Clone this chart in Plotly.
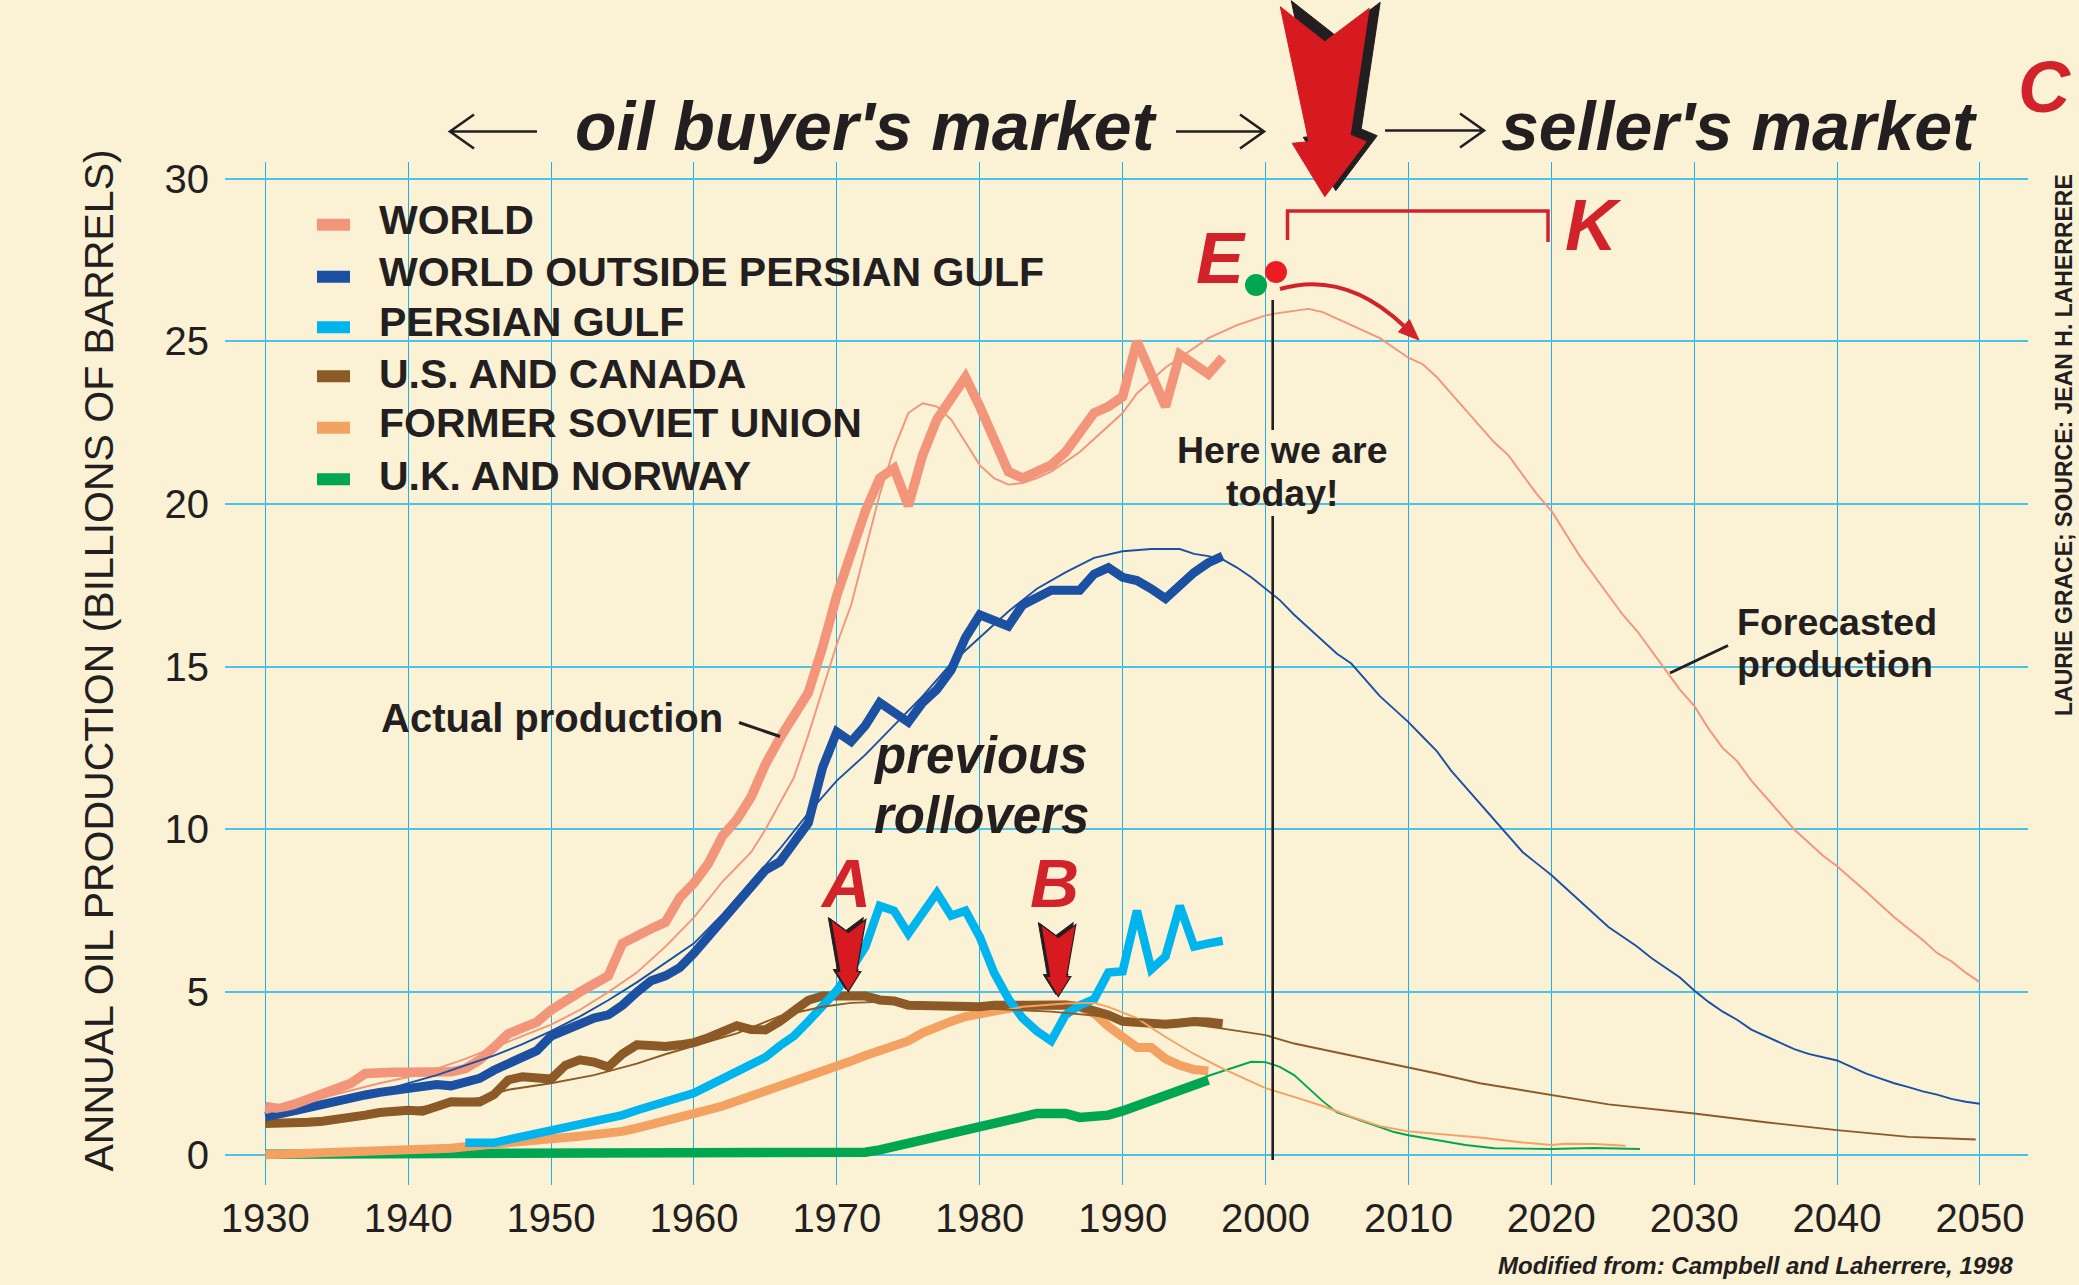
import plotly.graph_objects as go

# ---------------- data (annual oil production, billions of barrels) ----------------
x_ticks = [1930, 1940, 1950, 1960, 1970, 1980, 1990, 2000, 2010, 2020, 2030, 2040, 2050]
y_ticks = [0, 5, 10, 15, 20, 25, 30]

world_years = list(range(1930, 1998))
world_actual = [1.49, 1.42, 1.55, 1.7, 1.85, 1.98, 2.2, 2.5, 2.54, 2.54,
                2.54, 2.54, 2.54, 2.55, 2.65, 2.92, 3.3, 3.72, 3.9, 4.08,
                4.45, 4.75, 5.0, 5.25, 5.5, 6.5, 6.75, 6.95, 7.15, 7.9,
                8.35, 8.95, 9.8, 10.3, 11.0, 12.0, 12.8, 13.5, 14.2, 15.6,
                17.2, 18.5, 19.8, 20.8, 21.1, 19.95, 21.5, 22.6, 23.3, 23.9,
                23.0, 22.0, 21.0, 20.8, 21.0, 21.2, 21.6, 22.2, 22.8, 23.0,
                23.3, 25.0, 24.0, 23.0, 24.6, 24.3, 24.0, 24.5]

world_fit_years = [1930, 1932, 1935, 1938, 1940, 1942, 1944, 1946, 1948, 1950, 1952, 1954, 1956, 1958,
                   1960, 1962, 1964, 1965, 1966, 1967, 1968, 1969, 1970, 1971, 1972, 1973, 1974, 1975,
                   1976, 1977, 1978, 1979, 1980, 1981, 1982, 1983, 1984, 1985, 1986, 1987, 1988, 1989,
                   1990, 1991, 1992, 1993, 1994, 1995, 1996, 1997, 1998, 1999, 2000, 2001, 2002, 2003,
                   2004, 2005, 2006, 2007, 2008, 2009, 2010, 2011, 2012, 2013, 2014, 2015, 2016, 2017,
                   2018, 2019, 2020, 2021, 2022, 2023, 2024, 2025, 2026, 2027, 2028, 2029, 2030, 2031,
                   2032, 2033, 2034, 2035, 2036, 2037, 2038, 2039, 2040, 2041, 2042, 2043, 2044, 2045,
                   2046, 2047, 2048, 2049, 2050]
world_fit = [1.28, 1.5, 1.87, 2.2, 2.39, 2.65, 2.95, 3.3, 3.65, 4.0, 4.45, 5.0, 5.6, 6.4,
             7.3, 8.4, 9.3, 10.0, 10.8, 11.6, 12.9, 14.3, 15.7, 16.9, 18.6, 20.3, 21.7, 22.8,
             23.1, 23.0, 22.6, 21.9, 21.2, 20.8, 20.6, 20.65, 20.8, 21.0, 21.3, 21.6, 22.0, 22.4,
             22.8, 23.4, 23.8, 24.2, 24.5, 24.8, 25.1, 25.3, 25.5, 25.65, 25.8, 25.88, 25.95, 26.0,
             25.9, 25.7, 25.5, 25.3, 25.1, 24.8, 24.5, 24.3, 23.9, 23.4, 22.9, 22.4, 21.9, 21.5,
             20.9, 20.3, 19.8, 19.1, 18.4, 17.8, 17.2, 16.6, 16.1, 15.5, 14.9, 14.3, 13.8, 13.1,
             12.5, 12.1, 11.5, 11.0, 10.5, 10.0, 9.6, 9.2, 8.87, 8.5, 8.1, 7.7, 7.3, 6.95,
             6.6, 6.2, 5.95, 5.6, 5.3]

wopg_years = list(range(1930, 1998))
wopg_actual = [1.17, 1.23, 1.35, 1.45, 1.53, 1.63, 1.73, 1.84, 1.92, 1.98,
               1.98, 2.07, 2.16, 2.12, 2.2, 2.35, 2.6, 2.8, 3.0, 3.2,
               3.65, 3.85, 4.05, 4.2, 4.3, 4.6, 5.0, 5.35, 5.5, 5.75,
               6.2, 6.7, 7.2, 7.75, 8.15, 8.75, 9.0, 9.6, 10.2, 11.9,
               13.0, 12.7, 13.2, 13.9, 13.6, 13.3, 13.9, 14.3, 14.9, 15.9,
               16.6, 16.45, 16.25, 16.9, 17.15, 17.35, 17.35, 17.35, 17.85, 18.05,
               17.75, 17.65, 17.4, 17.1, 17.5, 17.9, 18.2, 18.4]

wopg_fit_years = [1930, 1932, 1934, 1936, 1938, 1940, 1942, 1944, 1946, 1948, 1950, 1952, 1954, 1956,
                  1958, 1960, 1962, 1964, 1966, 1968, 1970, 1972, 1974, 1976, 1978, 1980, 1982, 1984,
                  1986, 1988, 1990, 1992, 1994, 1995, 1996, 1997, 1998, 1999, 2000, 2001, 2002, 2003,
                  2004, 2005, 2006, 2007, 2008, 2009, 2010, 2011, 2012, 2013, 2014, 2015, 2016, 2017,
                  2018, 2019, 2020, 2021, 2022, 2023, 2024, 2025, 2026, 2027, 2028, 2029, 2030, 2031,
                  2032, 2033, 2034, 2035, 2036, 2037, 2038, 2039, 2040, 2041, 2042, 2043, 2044, 2045,
                  2046, 2047, 2048, 2049, 2050]
wopg_fit = [1.2, 1.35, 1.5, 1.7, 1.95, 2.2, 2.45, 2.75, 3.05, 3.4, 3.8, 4.25, 4.75, 5.3,
            5.9, 6.5, 7.4, 8.4, 9.4, 10.5, 11.5, 12.3, 13.2, 14.1, 15.1, 15.9, 16.7, 17.4,
            17.9, 18.35, 18.55, 18.62, 18.62, 18.47, 18.4, 18.3, 18.05, 17.75, 17.4, 17.05, 16.6, 16.2,
            15.8, 15.4, 15.1, 14.6, 14.1, 13.7, 13.3, 12.85, 12.4, 11.8, 11.3, 10.8, 10.3, 9.8,
            9.3, 8.95, 8.6, 8.2, 7.8, 7.4, 7.0, 6.7, 6.4, 6.05, 5.75, 5.45, 5.05, 4.7,
            4.4, 4.15, 3.85, 3.65, 3.45, 3.25, 3.1, 3.0, 2.9, 2.7, 2.5, 2.35, 2.2, 2.08,
            1.95, 1.85, 1.72, 1.63, 1.57]

pg_years = list(range(1944, 1998))
pg_actual = [0.37, 0.37, 0.37, 0.47, 0.56, 0.65,
             0.73, 0.82, 0.92, 1.02, 1.08, 1.22, 1.37, 1.5, 1.62, 1.75,
             1.9, 2.12, 2.35, 2.55, 2.8, 3.0, 3.35, 3.65, 4.1, 4.55,
             5.05, 5.7, 6.4, 7.65, 7.5, 6.8, 7.45, 8.05, 7.35, 7.5,
             6.7, 5.6, 4.8, 4.2, 3.8, 3.5, 4.3, 4.6, 4.78, 5.6,
             5.64, 7.5, 5.7, 6.1, 7.65, 6.4, 6.5, 6.58]

usc_years = list(range(1930, 1998))
usc_actual = [0.96, 0.96, 0.96, 1.0, 1.03, 1.08, 1.15, 1.22, 1.3, 1.37,
              1.37, 1.34, 1.45, 1.63, 1.62, 1.62, 1.85, 2.3, 2.4, 2.39,
              2.33, 2.75, 2.92, 2.85, 2.7, 3.1, 3.38, 3.36, 3.33, 3.38,
              3.45, 3.6, 3.8, 3.97, 3.85, 3.84, 4.1, 4.45, 4.75, 4.88,
              4.9, 4.9, 4.88, 4.76, 4.73, 4.6, 4.58, 4.6, 4.55, 4.52,
              4.55, 4.6, 4.6, 4.62, 4.62, 4.62, 4.6, 4.55, 4.45, 4.3,
              4.1, 4.05, 4.03, 4.01, 4.05, 4.1, 4.08, 4.03]
usc_fit_years = [1930, 1935, 1940, 1945, 1947, 1950, 1953, 1956, 1958, 1960, 1963, 1966, 1969, 1971,
                 1973, 1976, 1980, 1985, 1990, 1995, 1997, 2000, 2002, 2005, 2007, 2010, 2012, 2015,
                 2020, 2024, 2030, 2035, 2040, 2045, 2049.7]
usc_fit = [0.98, 1.1, 1.4, 1.75, 2.0, 2.2, 2.45, 2.8, 3.09, 3.35, 3.73, 4.26, 4.55, 4.67,
           4.7, 4.62, 4.5, 4.4, 4.2, 4.0, 3.88, 3.68, 3.42, 3.15, 2.95, 2.68, 2.5, 2.2,
           1.83, 1.55, 1.27, 1.0, 0.76, 0.55, 0.47]

fsu_years = list(range(1930, 1997))
fsu_actual = [0.0, 0.01, 0.02, 0.03, 0.04, 0.05, 0.07, 0.08, 0.1, 0.11,
              0.12, 0.14, 0.17, 0.2, 0.25, 0.3, 0.33, 0.36, 0.4, 0.45,
              0.5, 0.53, 0.57, 0.6, 0.65, 0.72, 0.82, 0.92, 1.02, 1.13,
              1.25, 1.38, 1.5, 1.65, 1.8, 1.95, 2.08, 2.22, 2.38, 2.55,
              2.7, 2.88, 3.05, 3.18, 3.3, 3.5, 3.75, 3.95, 4.1, 4.25,
              4.35, 4.45, 4.52, 4.58, 4.6, 4.63, 4.62, 4.55, 4.35, 3.95,
              3.6, 3.3, 3.3, 2.95, 2.75, 2.62, 2.58]
fsu_fit_years = [1980, 1983, 1986, 1988, 1989, 1991, 1993, 1995, 1997, 1998, 2000, 2002, 2004, 2006,
                 2008, 2010, 2012, 2015, 2018, 2020, 2021, 2023, 2025.2]
fsu_fit = [4.3, 4.55, 4.65, 4.67, 4.55, 4.2, 3.62, 3.1, 2.65, 2.45, 2.05, 1.78, 1.5, 1.17,
           0.88, 0.72, 0.65, 0.53, 0.38, 0.3, 0.34, 0.33, 0.28]

ukn_years = list(range(1930, 1997))
ukn_actual = [0.02, 0.02, 0.02, 0.02, 0.02, 0.02, 0.02, 0.02, 0.02, 0.02,
              0.02, 0.02, 0.02, 0.02, 0.02, 0.02, 0.02, 0.02, 0.02, 0.02,
              0.02, 0.02, 0.02, 0.02, 0.02, 0.02, 0.02, 0.02, 0.02, 0.02,
              0.02, 0.02, 0.02, 0.02, 0.02, 0.02, 0.02, 0.02, 0.02, 0.02,
              0.03, 0.05, 0.08, 0.15, 0.25, 0.38, 0.5, 0.61, 0.7, 0.8,
              0.86, 0.97, 1.08, 1.18, 1.27, 1.27, 1.27, 1.15, 1.18, 1.22,
              1.35, 1.5, 1.65, 1.8, 2.0, 2.15, 2.3]
ukn_fit_years = [1995.8, 1997, 1998, 1999, 2000, 2001, 2002, 2003, 2004, 2005, 2006, 2007, 2008, 2009,
                 2010, 2012, 2014, 2016, 2018, 2020, 2023, 2026.2]
ukn_fit = [2.4, 2.58, 2.72, 2.86, 2.85, 2.7, 2.45, 2.05, 1.65, 1.3, 1.15, 1.0, 0.85, 0.7,
           0.6, 0.45, 0.3, 0.2, 0.18, 0.18, 0.21, 0.18]

legend_labels = ["WORLD", "WORLD OUTSIDE PERSIAN GULF", "PERSIAN GULF",
                 "U.S. AND CANADA", "FORMER SOVIET UNION", "U.K. AND NORWAY"]

# ---------------- styling ----------------
W, H = 2079, 1285
L, R, T, B = 225, 2028, 162, 1185
BG = "#FBF1D5"
DARK = "#231F20"
RED = "#D2232A"
FONT = "Liberation Sans, Arial, Helvetica, sans-serif"
C_WORLD = "#F2957B"
C_WOPG = "#1B50A2"
C_PG = "#00B4EE"
C_USC = "#8B5A26"
C_FSU = "#F4A262"
C_UKN = "#00A651"

def P(x):
    return (x - L) / (R - L)

def Q(y):
    return (B - y) / (B - T)

def poly(points):
    return "M " + " L ".join(f"{P(x):.5f},{Q(y):.5f}" for x, y in points) + " Z"

fig = go.Figure()

thick = [
    ("U.K. AND NORWAY", ukn_years, ukn_actual, C_UKN, 9.5),
    ("FORMER SOVIET UNION", fsu_years, fsu_actual, C_FSU, 9),
    ("U.S. AND CANADA", usc_years, usc_actual, C_USC, 9),
    ("PERSIAN GULF", pg_years, pg_actual, C_PG, 8.5),
    ("WORLD OUTSIDE PERSIAN GULF", wopg_years, wopg_actual, C_WOPG, 9),
    ("WORLD", world_years, world_actual, C_WORLD, 9.5),
]
for name, xs, ys, col, w in thick:
    fig.add_trace(go.Scatter(x=xs, y=ys, mode="lines", name=name,
                             line=dict(color=col, width=w), showlegend=False,
                             hoverinfo="skip"))

thin = [
    ("U.K. AND NORWAY forecast", ukn_fit_years, ukn_fit, C_UKN),
    ("FORMER SOVIET UNION forecast", fsu_fit_years, fsu_fit, C_FSU),
    ("U.S. AND CANADA forecast", usc_fit_years, usc_fit, C_USC),
    ("WORLD OUTSIDE PERSIAN GULF forecast", wopg_fit_years, wopg_fit, C_WOPG),
    ("WORLD forecast", world_fit_years, world_fit, C_WORLD),
]
for name, xs, ys, col in thin:
    fig.add_trace(go.Scatter(x=xs, y=ys, mode="lines", name=name,
                             line=dict(color=col, width=1.9), showlegend=False,
                             hoverinfo="skip"))

shapes = []
annots = []

def txt(text, x, y, size, color=DARK, xanchor="center", angle=0):
    annots.append(dict(text=text, x=P(x), y=Q(y), xref="paper", yref="paper",
                       showarrow=False, xanchor=xanchor, yanchor="middle",
                       textangle=angle, font=dict(family=FONT, size=size, color=color)))

def line(x0, y0, x1, y1, color=DARK, width=2.5):
    shapes.append(dict(type="line", xref="paper", yref="paper",
                       x0=P(x0), y0=Q(y0), x1=P(x1), y1=Q(y1),
                       line=dict(color=color, width=width)))

def open_arrow(x0, x1, y, head=24, half=17, width=2.6):
    # horizontal thin arrow with an open "V" head at x1
    d = 1 if x1 > x0 else -1
    path = (f"M {P(x0):.5f},{Q(y):.5f} L {P(x1):.5f},{Q(y):.5f} "
            f"M {P(x1 - d * head):.5f},{Q(y - half):.5f} L {P(x1):.5f},{Q(y):.5f} "
            f"L {P(x1 - d * head):.5f},{Q(y + half):.5f}")
    shapes.append(dict(type="path", xref="paper", yref="paper", path=path,
                       line=dict(color=DARK, width=width)))

# legend (manual, matching original placement)
leg_cols = [C_WORLD, C_WOPG, C_PG, C_USC, C_FSU, C_UKN]
leg_text_y = [220, 271.5, 322, 373.5, 423, 476.5]
leg_sw_y = [224.8, 276.7, 327.2, 376.3, 427.8, 479.2]
for lab, col, ty, sy in zip(legend_labels, leg_cols, leg_text_y, leg_sw_y):
    shapes.append(dict(type="rect", xref="paper", yref="paper",
                       x0=P(317), x1=P(350), y0=Q(sy + 6), y1=Q(sy - 6),
                       fillcolor=col, line=dict(width=0)))
    txt(f"<b>{lab}</b>", 377, ty, 41, xanchor="left")

# headline
open_arrow(537, 450, 131.5)
txt("<b><i>oil buyer's market</i></b>", 866, 126, 68)
open_arrow(1176, 1264, 131.5)
open_arrow(1385, 1484, 130.5)
txt("<b><i>seller's market</i></b>", 1739, 126, 68)
txt("<b><i>C</i></b>", 2044, 87, 72, color=RED)

# big red down arrow with black shadow
big = [(1280.3, 6.7), (1324.8, 41.7), (1369.2, 8.3), (1350.2, 135), (1366.2, 141.7),
       (1324.8, 196.7), (1292.2, 143.3), (1308.8, 141.7)]
shapes.append(dict(type="path", xref="paper", yref="paper",
                   path=poly([(x + 11, y - 6) for x, y in big]),
                   fillcolor=DARK, line=dict(color=DARK, width=1)))
shapes.append(dict(type="path", xref="paper", yref="paper", path=poly(big),
                   fillcolor="#D71920", line=dict(color="#D71920", width=1)))

# E, dots, bracket K, curved arrow
txt("<b><i>E</i></b>", 1221, 258, 72, color=RED)
shapes.append(dict(type="circle", xref="paper", yref="paper",
                   x0=P(1245), x1=P(1267), y0=Q(296), y1=Q(274),
                   fillcolor=C_UKN, line=dict(width=0)))
shapes.append(dict(type="circle", xref="paper", yref="paper",
                   x0=P(1265), x1=P(1287), y0=Q(283), y1=Q(261),
                   fillcolor="#ED1C24", line=dict(width=0)))
shapes.append(dict(type="path", xref="paper", yref="paper",
                   path=(f"M {P(1287.5):.5f},{Q(240):.5f} L {P(1287.5):.5f},{Q(211):.5f} "
                         f"L {P(1548):.5f},{Q(211):.5f} L {P(1548):.5f},{Q(242):.5f}"),
                   line=dict(color=RED, width=3.5)))
txt("<b><i>K</i></b>", 1593, 225, 72, color=RED)
shapes.append(dict(type="path", xref="paper", yref="paper",
                   path=(f"M {P(1280):.5f},{Q(289):.5f} Q {P(1345):.5f},{Q(270):.5f} "
                         f"{P(1404):.5f},{Q(326):.5f}"),
                   line=dict(color=RED, width=4)))
shapes.append(dict(type="path", xref="paper", yref="paper",
                   path=poly([(1419, 340), (1398.5, 332), (1409.5, 319.5)]),
                   fillcolor=RED, line=dict(color=RED, width=1)))

# "Here we are today!" line
line(1272.7, 300, 1272.7, 430, width=2.6)
line(1272.7, 516, 1272.7, 1160, width=2.6)
txt("<b>Here we are</b>", 1282, 450, 37.5)
txt("<b>today!</b>", 1282, 492.5, 37.5)

# Actual / Forecasted production labels
txt("<b>Actual production</b>", 552, 718, 40)
line(739, 722.5, 780, 736.5, width=3)
txt("<b>Forecasted</b>", 1735, 621.5, 37.5, xanchor="left")
txt("<b>production</b>", 1735, 664, 37.5, xanchor="left")
line(1670, 673, 1728, 645.5, width=3)

# previous rollovers, A and B
txt("<b><i>previous</i></b>", 980, 756, 51)
txt("<b><i>rollovers</i></b>", 981, 815.5, 51)

def small_arrow(tx, ty):
    return [(tx - 17.5, ty - 72), (tx, ty - 59), (tx + 17.5, ty - 72), (tx + 8.5, ty - 20),
            (tx + 12.5, ty - 20), (tx, ty), (tx - 12.5, ty - 20), (tx - 8.5, ty - 20)]

for label, tx, ty in [("A", 848.3, 991.5), ("B", 1058.3, 996.5)]:
    pts = small_arrow(tx, ty)
    shapes.append(dict(type="path", xref="paper", yref="paper",
                       path=poly([(x - 2.5, y - 2) for x, y in pts]),
                       fillcolor=DARK, line=dict(color=DARK, width=1)))
    shapes.append(dict(type="path", xref="paper", yref="paper", path=poly(pts),
                       fillcolor="#D71920", line=dict(color=DARK, width=1.2)))
txt("<b><i>A</i></b>", 845, 883, 68, color=RED)
txt("<b><i>B</i></b>", 1054, 883, 68, color=RED)

# axis title, credits
txt("ANNUAL OIL PRODUCTION (BILLIONS OF BARRELS)", 98.5, 661, 41, angle=-90)
txt("<b>LAURIE GRACE; SOURCE: JEAN H. LAHERRERE</b>", 2064, 445, 23, angle=-90)
txt("<b><i>Modified from: Campbell and Laherrere, 1998</i></b>", 2015, 1265, 24, xanchor="right")

fig.update_layout(
    width=W, height=H, autosize=False,
    margin=dict(l=L, r=W - R, t=T, b=H - B, pad=0),
    paper_bgcolor=BG, plot_bgcolor=BG,
    showlegend=False,
    font=dict(family=FONT, color=DARK),
    shapes=shapes, annotations=annots,
    xaxis=dict(range=[1927.18, 2053.36], tickmode="array", tickvals=x_ticks,
               ticktext=[str(v) for v in x_ticks],
               showgrid=True, gridcolor="#1EAFE6", gridwidth=1.3,
               zeroline=False, showline=False, ticks="",
               tickfont=dict(family=FONT, size=40, color=DARK),
               ticklabelstandoff=6),
    yaxis=dict(range=[-0.928, 30.516], tickmode="array", tickvals=y_ticks,
               ticktext=[str(v) for v in y_ticks],
               showgrid=True, gridcolor="#4CC2E8", gridwidth=2.3,
               zeroline=False, showline=False, ticks="",
               tickfont=dict(family=FONT, size=40, color=DARK),
               ticklabelstandoff=15),
)

fig.write_html("out.html", config={"displayModeBar": False},
               post_script="document.body.style.margin='0px';document.body.style.background='" + BG + "';")
